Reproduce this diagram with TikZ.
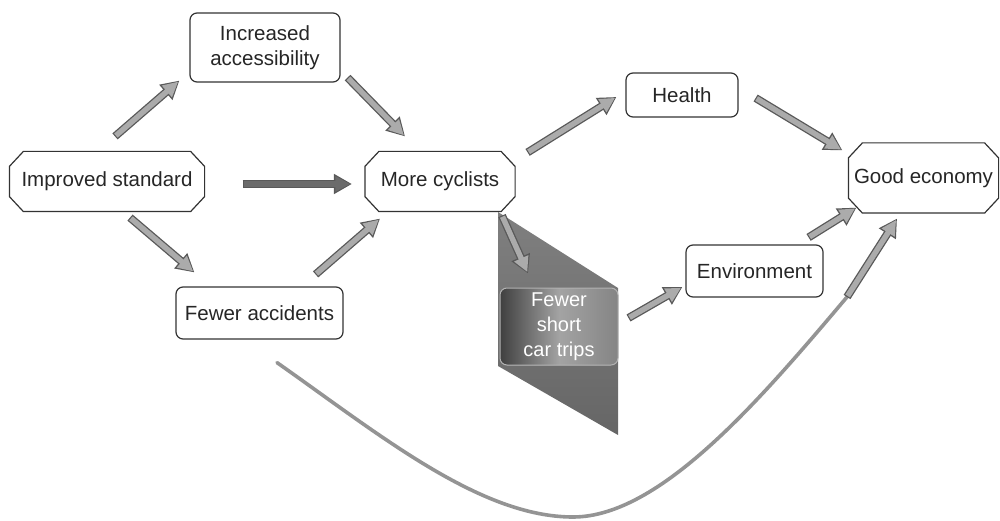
\documentclass[tikz,border=0pt]{standalone}
\usepackage{fontspec}
\setmainfont{Liberation Sans}
\usetikzlibrary{shapes.misc,arrows.meta}
\newcommand\chamfbox[1]{%
  \draw[cborder] ([xshift=14pt]#1.north west) -- ([xshift=-14pt]#1.north east)
    -- ([yshift=-15pt]#1.north east) -- ([yshift=15pt]#1.south east)
    -- ([xshift=-14pt]#1.south east) -- ([xshift=14pt]#1.south west)
    -- ([yshift=15pt]#1.south west) -- ([yshift=-15pt]#1.north west) -- cycle;}
\begin{document}
\begin{tikzpicture}[x=1pt,y=-1pt,
  base/.style={draw=black!80, line width=1.2pt, fill=white, text=black!85,
    font=\fontsize{20.5}{25}\selectfont, inner sep=2pt, align=center},
  rbox/.style={base, rectangle, rounded corners=7pt},
  cbox/.style={base, rectangle, draw=none},
  cborder/.style={draw=black!80, line width=1.2pt, fill=none},
  barrow/.style={line width=8pt, draw=black!65, line cap=butt,
    -{Triangle[length=18pt,width=19pt]},
    postaction={draw=#1, line width=5.4pt, shorten >=1.6pt, shorten <=1.2pt,
      -{Triangle[length=15pt,width=14.5pt]}}},
  barrow/.default=black!33,
  curveline/.style={draw=black!42, line width=3.6pt, line cap=round}
]
\useasboundingbox (0,0) rectangle (1000,521);

% shaded parallelogram behind "Fewer short car trips"
\shade[top color=black!50, middle color=black!6, bottom color=black!60]
  (498,212) -- (618,288) -- (618,435) -- (498,366) -- cycle;

% nodes
\node[rbox, minimum width=150pt, minimum height=69pt] (acc) at (265,47.5) {Increased\\accessibility};
\node[cbox, minimum width=194pt, minimum height=59pt] (imp) at (107,181.5) {Improved standard};
\node[cbox, minimum width=149pt, minimum height=59pt] (more) at (440,181.5) {More cyclists};
\node[rbox, minimum width=167pt, minimum height=52pt] (facc) at (259.5,313) {Fewer accidents};
\node[rbox, minimum width=112pt, minimum height=44pt] (health) at (682,95) {Health};
\node[cbox, minimum width=149pt, minimum height=69pt] (econ) at (923.5,178) {Good economy};
\node[rbox, minimum width=137pt, minimum height=52pt] (env) at (754.5,271) {Environment};
\node[rbox, draw=black!30, line width=1pt, left color=black!75, right color=black!48,
  middle color=black!36, text=white, minimum width=118pt, minimum height=77pt,
  font=\fontsize{20}{25}\selectfont] (car) at (559,326.5) {Fewer\\short\\car trips};

\chamfbox{imp}
\chamfbox{more}
\chamfbox{econ}

\coordinate (cend) at (847,297);

% connectors
\draw[barrow] ([shift={(8,-15)}]imp.north) -- ([shift={(-10,-2)}]acc.south west);
\draw[barrow] ([shift={(7,-5)}]acc.south east) -- ([shift={(-35,-15)}]more.north);
\draw[barrow=black!58] ([shift={(38,2.5)}]imp.east) -- ([shift={(-13,2.5)}]more.west);
\draw[barrow] ([shift={(23,6)}]imp.south) -- ([shift={(19,-14)}]facc.north west);
\draw[barrow] ([shift={(-28,-12)}]facc.north east) -- ([shift={(-60,7)}]more.south);
\draw[barrow] ([shift={(12.5,1)}]more.north east) -- ([shift={(-9,2)}]health.west);
\draw[barrow] ([shift={(17,3)}]health.east) -- ([shift={(-6,7.5)}]econ.north west);
\draw[barrow] ([shift={(-15,-7)}]env.north east) -- ([shift={(8,-5.5)}]econ.south west);
\draw[barrow] ([shift={(62,4)}]more.south) -- ([shift={(-31,-14)}]car.north);
\draw[barrow] ([shift={(10,-8.5)}]car.east) -- ([shift={(-3,16)}]env.west);

\draw[curveline] ([shift={(17.5,23)}]facc.south)
  .. controls (380,435) and (480,517) .. (573,517)
  .. controls (660,517) and (760,400) .. (cend);
\draw[barrow] (cend) -- ([shift={(-26.5,5.5)}]econ.south);
\end{tikzpicture}
\end{document}
